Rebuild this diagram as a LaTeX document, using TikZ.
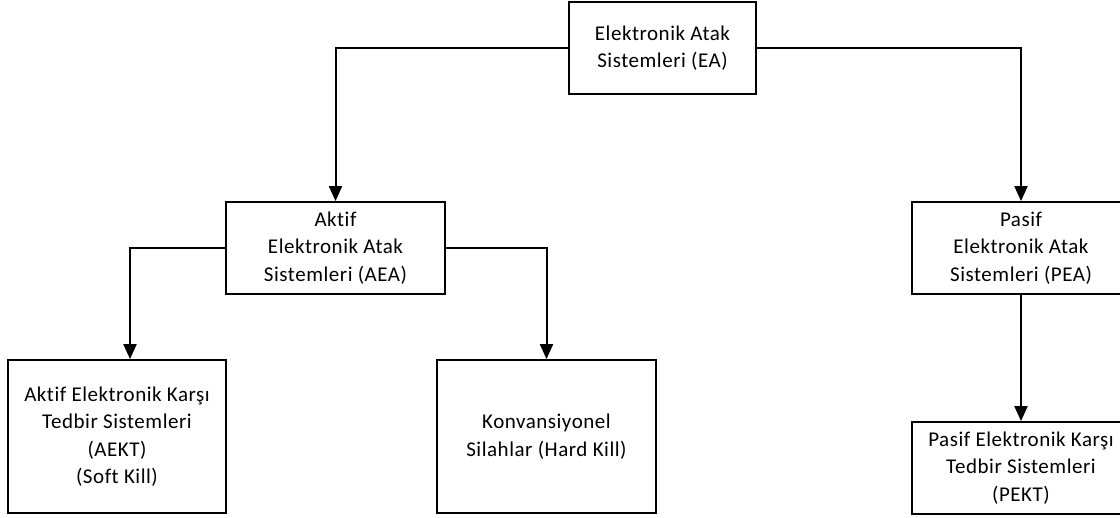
\documentclass[tikz,border=0pt]{standalone}
\usepackage{fontspec}
\setmainfont[Ligatures=NoCommon, LetterSpace=2.5]{Carlito}
\usetikzlibrary{arrows.meta}

\begin{document}
\begin{tikzpicture}[x=1pt,y=-1pt,
  box/.style={draw=black, line width=1.8pt, align=center, inner sep=2pt,
    font=\fontsize{21}{27.5}\selectfont},
  link/.style={draw=black, line width=2pt,
    -{Triangle[width=13pt,length=15pt]}}
]
\useasboundingbox (0,0) rectangle (1120,518);
\clip (0,0) rectangle (1120,518);

% boxes of the hierarchy
\node[box, minimum width=187pt, minimum height=92pt] (ea) at (662.5,48)
  {Elektronik Atak\\Sistemleri (EA)};
\node[box, minimum width=219pt, minimum height=92pt] (aea) at (335.5,248)
  {Aktif\\Elektronik Atak\\Sistemleri (AEA)};
\node[box, minimum width=218pt, minimum height=92pt] (pea) at (1021,248)
  {Pasif\\Elektronik Atak\\Sistemleri (PEA)};
\node[box, minimum width=218pt, minimum height=153pt] (aekt) at (117,436.5)
  {Aktif Elektronik Karşı\\Tedbir Sistemleri\\(AEKT)\\(Soft Kill)};
\node[box, minimum width=219pt, minimum height=153pt] (konv) at (546.5,436.5)
  {Konvansiyonel\\Silahlar (Hard Kill)};
\node[box, minimum width=218pt, minimum height=92pt] (pekt) at (1021,468)
  {Pasif Elektronik Karşı\\Tedbir Sistemleri\\(PEKT)};

% connectors
\draw[link] (ea.west) -| (aea.north);
\draw[link] (ea.east) -| (pea.north);
\draw[link] (aea.west) -| ([xshift=13pt]aekt.north);
\draw[link] (aea.east) -| (konv.north);
\draw[link] (pea.south) -- (pekt.north);
\end{tikzpicture}
\end{document}
